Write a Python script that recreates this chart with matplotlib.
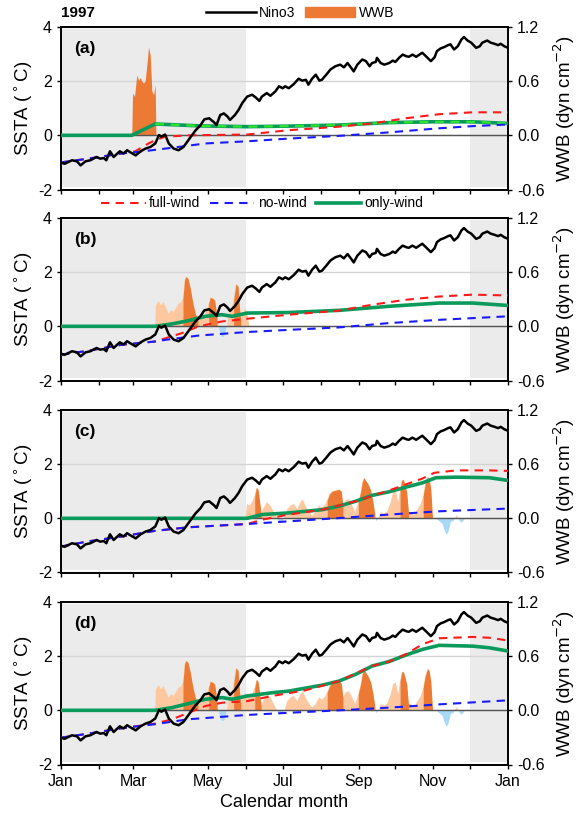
import numpy as np
import matplotlib.pyplot as plt

plt.rcParams['font.family'] = ['Liberation Sans', 'DejaVu Sans']

# observed Nino3 SSTA (same in every panel)
nino_day = [0, 3, 9, 13, 16, 20, 24, 29, 32, 35, 37, 40, 43, 46, 48, 51, 54, 56, 61, 65,
            69, 73, 77, 80, 82, 85, 88, 92, 96, 100, 104, 107, 110, 114, 117, 121, 125, 127, 130, 133,
            136, 138, 142, 145, 148, 152, 156, 159, 162, 164, 168, 171, 175, 178, 181, 183, 186, 190, 194, 197,
            200, 202, 205, 208, 211, 213, 217, 220, 224, 228, 231, 234, 237, 239, 242, 246, 249, 252, 254, 257,
            258, 261, 264, 268, 271, 273, 276, 279, 282, 284, 287, 290, 292, 295, 298, 302, 305, 307, 310, 313,
            316, 318, 321, 324, 327, 329, 332, 335, 339, 342, 344, 348, 351, 354, 357, 359, 362, 365]
nino_val = [-1.01, -1.05, -0.92, -0.96, -1.11, -0.96, -0.92, -0.80, -0.86, -0.84, -0.92, -0.59, -0.80, -0.67, -0.59, -0.67, -0.55, -0.61, -0.74, -0.59,
            -0.49, -0.43, -0.30, 0.01, -0.05, 0.03, -0.30, -0.49, -0.55, -0.43, -0.18, 0.01, 0.19, 0.38, 0.59, 0.63, 0.48, 0.38, 0.75, 0.81,
            0.69, 0.57, 0.75, 0.94, 1.19, 1.43, 1.50, 1.40, 1.27, 1.43, 1.56, 1.46, 1.62, 1.81, 1.74, 1.81, 1.74, 1.89, 2.09, 2.02,
            2.05, 1.87, 2.09, 2.24, 2.02, 2.05, 2.26, 2.43, 2.55, 2.61, 2.51, 2.67, 2.49, 2.36, 2.61, 2.80, 2.74, 2.55, 2.67, 2.71,
            2.86, 2.67, 2.61, 2.67, 2.76, 2.71, 2.86, 2.98, 2.92, 2.90, 2.98, 2.90, 2.96, 3.05, 2.92, 2.74, 2.88, 3.11, 3.21, 3.26,
            3.33, 3.36, 3.17, 3.29, 3.54, 3.63, 3.50, 3.42, 3.23, 3.29, 3.42, 3.50, 3.42, 3.38, 3.33, 3.38, 3.29, 3.23]

# panel (a): idealised WWB
wwb_a_day = [57.8, 58.4, 60.0, 61.9, 63.3, 64.7, 66.0, 67.4, 68.7, 70.1, 71.5, 72.8, 74.2, 75.6, 76.9, 77.5]
wwb_a_val = [0.0, 0.47, 0.43, 0.67, 0.61, 0.64, 0.60, 0.58, 0.60, 0.78, 0.98, 0.89, 0.49, 0.45, 0.56, 0.0]

# observed WWB (panel d = all; b and c are parts of it)
wwb_day = [76.9, 77.5, 79.7, 81.8, 83.7, 85.7, 87.8, 90.0, 91.9, 93.8, 96.0, 98.2, 99.6, 100.9, 102.0, 103.7,
           105.6, 107.5, 109.7, 111.8, 113.8, 116.5, 119.2, 120.6, 121.9, 123.9, 125.5, 127.4, 128.8, 130.1, 131.5, 133.4,
           134.8, 135.6, 137.0, 139.1, 141.0, 142.9, 144.6, 145.7, 146.8, 148.4, 150.6, 152.0, 153.9, 156.0, 158.2, 159.6,
           160.9, 162.3, 163.4, 165.6, 168.3, 171.0, 173.8, 176.5, 178.4, 180.6, 182.5, 184.7, 187.4, 190.1, 192.9, 195.6,
           197.5, 199.7, 202.4, 205.1, 207.9, 210.6, 213.3, 216.0, 217.4, 219.3, 221.5, 224.2, 227.0, 228.9, 230.2, 232.4,
           235.2, 237.9, 240.1, 242.8, 244.7, 246.0, 247.4, 248.8, 250.7, 252.9, 254.8, 256.2, 257.5, 259.2, 261.1, 263.8,
           266.5, 269.3, 271.2, 273.3, 275.5, 276.9, 278.2, 279.6, 281.0, 282.3, 283.7, 285.6, 288.4, 291.1, 293.8, 295.8,
           297.4, 299.3, 300.6, 302.0, 303.4, 306.1, 308.8, 311.5, 313.4, 315.0, 316.4, 318.4, 320.3, 321.9, 323.3, 324.6,
           326.5, 328.4, 330.1]
wwb_val = [0.0, 0.23, 0.28, 0.23, 0.27, 0.21, 0.14, 0.18, 0.16, 0.20, 0.25, 0.27, 0.31, 0.51, 0.55, 0.53,
           0.42, 0.27, 0.14, 0.07, 0.08, 0.10, 0.18, 0.25, 0.32, 0.31, 0.29, 0.10, 0.0, -0.08, -0.12, -0.11,
           -0.03, 0.0, 0.14, 0.18, 0.29, 0.47, 0.44, 0.21, 0.07, 0.14, 0.20, 0.16, 0.14, 0.18, 0.25, 0.34,
           0.32, 0.18, 0.05, 0.12, 0.18, 0.14, 0.07, 0.0, -0.05, -0.03, 0.0, 0.10, 0.14, 0.16, 0.10, 0.18,
           0.21, 0.14, 0.08, 0.03, 0.07, 0.14, 0.12, 0.16, 0.20, 0.27, 0.30, 0.31, 0.32, 0.30, 0.14, 0.20,
           0.21, 0.14, 0.07, 0.18, 0.29, 0.40, 0.45, 0.42, 0.38, 0.31, 0.18, 0.05, -0.03, 0.0, 0.07, 0.05,
           0.08, 0.18, 0.29, 0.31, 0.18, 0.32, 0.42, 0.43, 0.36, 0.29, 0.07, 0.07, 0.04, 0.10, 0.16, 0.25,
           0.38, 0.46, 0.44, 0.32, 0.0, 0.0, -0.03, -0.06, -0.14, -0.18, -0.15, -0.04, -0.03, 0.0, 0.04, 0.0,
           -0.05, -0.03, 0.0]
# strong events (dark orange)
wwb_events = [(99.6, 111.8), (120.6, 127.4), (141.0, 146.8), (158.2, 163.4),
              (217.4, 230.2), (242.8, 256.2), (276.9, 283.7), (295.8, 303.4)]
# WWB window used in each panel
wwb_window = {'b': (76, 152), 'c': (152, 366), 'd': (0, 366)}

# model runs (SSTA)
full_day = {'a': [0, 22.4, 49.6, 60.6, 71.5, 76.9, 85.1, 104.2, 152.0, 186.0, 227.0, 254.3, 281.5, 308.8, 336.1, 365],
            'b': [0, 22.4, 49.6, 76.9, 98.8, 112.4, 131.5, 152.0, 186.0, 227.0, 254.3, 281.5, 308.8, 336.1, 365],
            'c': [0, 22.4, 49.6, 76.9, 104.2, 131.5, 152.0, 164.2, 186.0, 213.3, 240.6, 267.9, 281.5, 295.2, 304.7, 322.4, 349.7, 365],
            'd': [0, 22.4, 49.6, 76.9, 90.6, 104.2, 117.9, 131.5, 152.0, 172.4, 199.7, 227.0, 254.3, 267.9, 281.5, 295.2, 308.8, 336.1, 349.7, 365]}
full_val = {'a': [-1.0, -0.86, -0.67, -0.59, -0.30, -0.18, -0.05, 0.0, 0.03, 0.19, 0.32, 0.44, 0.63, 0.78, 0.85, 0.85],
            'b': [-1.05, -0.90, -0.68, -0.56, -0.25, 0.0, 0.18, 0.28, 0.43, 0.58, 0.80, 0.98, 1.10, 1.17, 1.14],
            'c': [-1.04, -0.85, -0.67, -0.46, -0.33, -0.26, -0.21, -0.05, 0.14, 0.32, 0.63, 1.03, 1.25, 1.47, 1.68, 1.77, 1.77, 1.75],
            'd': [-1.01, -0.86, -0.66, -0.49, -0.33, -0.09, 0.16, 0.28, 0.34, 0.53, 0.74, 1.08, 1.64, 1.80, 2.07, 2.44, 2.66, 2.71, 2.68, 2.58]}
nowind_day = {'a': [0, 22.4, 49.6, 63.3, 90.6, 117.9, 152.0, 186.0, 227.0, 267.9, 308.8, 336.1, 365],
              'b': [0, 22.4, 49.6, 76.9, 85.1, 112.4, 152.0, 186.0, 227.0, 267.9, 308.8, 365],
              'c': [0, 22.4, 49.6, 76.9, 104.2, 131.5, 152.0, 186.0, 227.0, 267.9, 308.8, 365],
              'd': [0, 22.4, 49.6, 76.9, 104.2, 152.0, 186.0, 227.0, 267.9, 308.8, 365]}
nowind_val = {'a': [-1.0, -0.86, -0.67, -0.61, -0.46, -0.30, -0.22, -0.12, -0.02, 0.11, 0.26, 0.34, 0.40],
              'b': [-1.05, -0.90, -0.68, -0.56, -0.50, -0.34, -0.21, -0.13, -0.04, 0.12, 0.24, 0.37],
              'c': [-1.04, -0.85, -0.67, -0.46, -0.33, -0.26, -0.21, -0.11, 0.01, 0.14, 0.26, 0.36],
              'd': [-1.01, -0.86, -0.66, -0.51, -0.33, -0.17, -0.09, 0.0, 0.10, 0.22, 0.37]}
only_day = {'a': [0, 57.8, 76.9, 112.4, 152.0, 186.0, 227.0, 267.9, 303.4, 336.1, 365],
            'b': [0, 76.9, 90.6, 104.2, 117.9, 131.5, 139.7, 152.0, 186.0, 227.0, 267.9, 308.8, 336.1, 365],
            'c': [0, 152.0, 164.2, 186.0, 213.3, 227.0, 240.6, 254.3, 267.9, 281.5, 295.2, 306.1, 322.4, 349.7, 365],
            'd': [0, 76.9, 90.6, 104.2, 117.9, 131.5, 139.7, 152.0, 172.4, 186.0, 213.3, 227.0, 240.6, 254.3, 267.9, 281.5, 295.2, 308.8, 336.1, 349.7, 365]}
only_val = {'a': [0, 0, 0.42, 0.35, 0.32, 0.34, 0.38, 0.47, 0.50, 0.50, 0.44],
            'b': [0, 0, 0.09, 0.21, 0.37, 0.43, 0.37, 0.49, 0.51, 0.59, 0.74, 0.86, 0.86, 0.77],
            'c': [0, 0, 0.14, 0.20, 0.32, 0.45, 0.63, 0.85, 0.98, 1.15, 1.31, 1.50, 1.52, 1.50, 1.40],
            'd': [0, 0, 0.10, 0.25, 0.41, 0.47, 0.41, 0.53, 0.65, 0.71, 0.93, 1.08, 1.33, 1.64, 1.80, 2.04, 2.25, 2.40, 2.37, 2.31, 2.19]}

month_days = [0, 31, 59, 90, 120, 151, 181, 212, 243, 273, 304, 334, 365]
month_labels = ['Jan', '', 'Mar', '', 'May', '', 'Jul', '', 'Sep', '', 'Nov', '', 'Jan']
panels = ['a', 'b', 'c', 'd']

c_dark = '#ec7a35'
c_light = '#fdc8a0'
c_neg = '#a8d8f6'
c_green = '#0a9a5c'

fig = plt.figure(figsize=(5.79, 8.17), dpi=100)
W, H = 579.0, 817.0
tops = [27, 218, 410, 602]
ph = 162.5
left, right = 61, 508

for i, p in enumerate(panels):
    rect = [left / W, 1 - (tops[i] + ph) / H, (right - left) / W, ph / H]
    ax = fig.add_axes(rect)
    ax2 = ax.twinx()
    ax.set_zorder(ax2.get_zorder() + 1)
    ax.patch.set_visible(False)

    # background: shading, grid, WWB
    ax2.axvspan(0, 151, ymin=0.015, ymax=0.99, color='#ebebeb', lw=0, zorder=1)
    ax2.axvspan(334, 365, ymin=0.015, ymax=0.99, color='#ebebeb', lw=0, zorder=1)
    ax2.set_axisbelow('line')
    ax2.grid(True, color='#d4d4d4', lw=1)

    if p == 'a':
        ax2.fill_between(wwb_a_day, 0, wwb_a_val, color=c_dark, lw=0, zorder=2)
    else:
        d = np.array(wwb_day)
        lo, hi = wwb_window[p]
        w = np.where((d >= lo) & (d <= hi), np.array(wwb_val), 0.0)
        ax2.fill_between(d, 0, w, where=w >= 0, interpolate=True, color=c_light, lw=0, zorder=2)
        ax2.fill_between(d, 0, w, where=w <= 0, interpolate=True, color=c_neg, lw=0, zorder=2)
        for s, e in wwb_events:
            m = (d >= s) & (d <= e)
            ax2.fill_between(d, 0, w, where=m, color=c_dark, lw=0, zorder=3)

    ax2.set_ylim(-0.6, 1.2)
    ax2.set_yticks([-0.6, 0.0, 0.6, 1.2])
    ax2.set_yticklabels(['-0.6', '0.0', '0.6', '1.2'], fontsize=11.5)
    ax2.set_ylabel('WWB (dyn cm$^{-2}$)', fontsize=13.5, labelpad=5)

    # lines
    ax.axhline(0, color='#555555', lw=1, zorder=1)
    ax.plot(nino_day, nino_val, color='black', lw=1.8, zorder=5)
    ax.plot(only_day[p], only_val[p], color=c_green, lw=2.6, zorder=3)
    if p == 'a':
        ax.plot(only_day[p][2:], only_val[p][2:], color='#2ee62e', lw=1.6,
                dashes=(4, 3), zorder=3.5)
    ax.plot(full_day[p], full_val[p], color='#ff1a1a', lw=1.5, dashes=(4, 3), zorder=4)
    ax.plot(nowind_day[p], nowind_val[p], color='#1a1aff', lw=1.5, dashes=(4, 3), zorder=4)

    ax.set_xlim(0, 365)
    ax.set_ylim(-2, 4)
    ax.set_yticks([-2, 0, 2, 4])
    ax.set_yticklabels(['-2', '0', '2', '4'], fontsize=11.5)
    ax.set_ylabel('SSTA ($^\\circ$C)', fontsize=13.5, labelpad=3)
    ax.set_xticks(month_days)
    if i == 3:
        ax.set_xticklabels(month_labels, fontsize=11.5)
        ax.set_xlabel('Calendar month', fontsize=13)
    else:
        ax.set_xticklabels([])
    ax.tick_params(length=3, width=1)
    ax2.tick_params(length=3, width=1)
    for sp in ax.spines.values():
        sp.set_linewidth(1.2)
    for sp in ax2.spines.values():
        sp.set_linewidth(1.2)
    ax.text(0.03, 0.87, '(%s)' % p, transform=ax.transAxes, fontsize=12.5,
            fontweight='bold', va='center')

    if i == 0:
        h1, = ax.plot([], [], color='black', lw=1.8, label='Nino3')
        h2 = plt.Rectangle((0, 0), 1, 1, color=c_dark, label='WWB')
        ax.legend(handles=[h1, h2], loc='center', bbox_to_anchor=(0.535, 1.085),
                  ncol=2, frameon=False, fontsize=10, handlelength=3.6,
                  columnspacing=0.7, handletextpad=0.25, borderaxespad=0)
        ax.text(0.0, 1.085, '1997', transform=ax.transAxes, fontsize=11,
                fontweight='bold', va='center')
    if i == 1:
        g1, = ax.plot([], [], color='#ff1a1a', lw=1.5, dashes=(4, 3), label='full-wind')
        g2, = ax.plot([], [], color='#1a1aff', lw=1.5, dashes=(4, 3), label='no-wind')
        g3, = ax.plot([], [], color=c_green, lw=2.6, label='only-wind')
        ax.legend(handles=[g1, g2, g3], loc='center', bbox_to_anchor=(0.45, 1.09),
                  ncol=3, frameon=False, fontsize=10, handlelength=3.2,
                  columnspacing=0.7, handletextpad=0.25, borderaxespad=0)

fig.savefig('out.png', dpi=100)
